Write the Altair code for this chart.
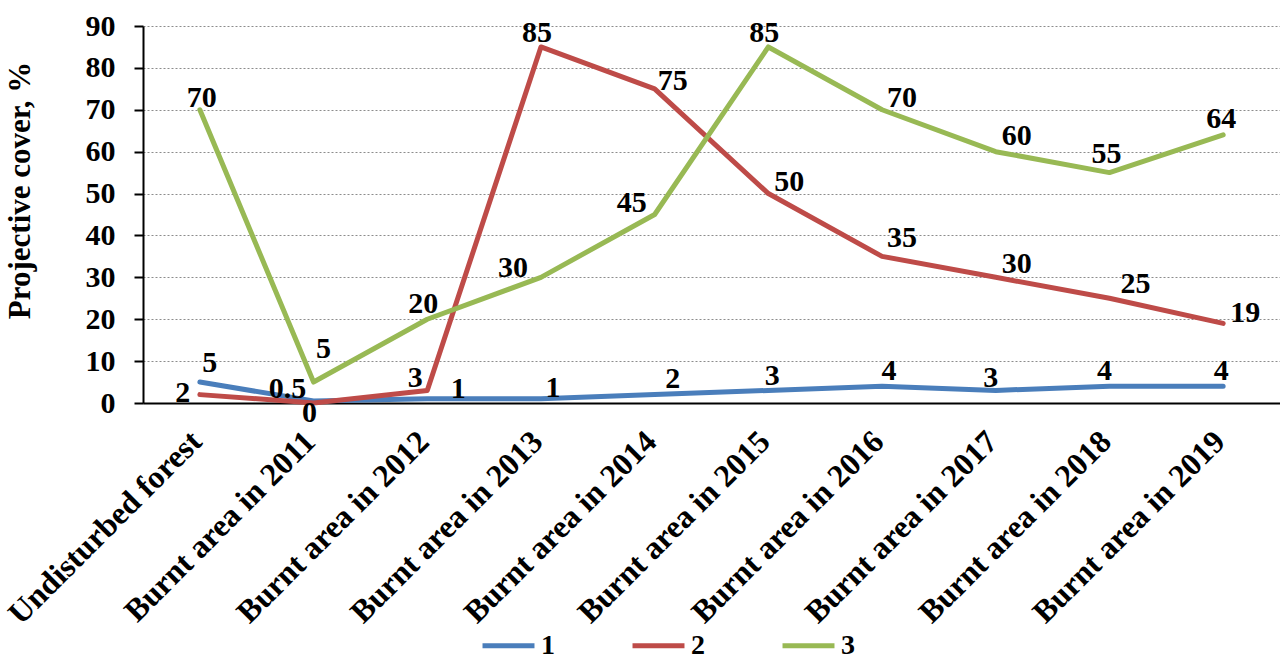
import altair as alt
import pandas as pd

# Site categories along the x axis
categories = [
    "Undisturbed forest",
    "Burnt area in 2011",
    "Burnt area in 2012",
    "Burnt area in 2013",
    "Burnt area in 2014",
    "Burnt area in 2015",
    "Burnt area in 2016",
    "Burnt area in 2017",
    "Burnt area in 2018",
    "Burnt area in 2019",
]

# Projective cover (%) for each series
series_1 = [5, 0.5, 1, 1, 2, 3, 4, 3, 4, 4]
series_2 = [2, 0, 3, 85, 75, 50, 35, 30, 25, 19]
series_3 = [70, 5, 20, 30, 45, 85, 70, 60, 55, 64]

series_names = ["1", "2", "3"]
series_colors = ["#4A7EBB", "#BE4B48", "#98B954"]

# Pixel nudges for the value labels (dx, dy from the point)
label_dx = {
    "1": [10, -26, 31, 12, 18, 4, 7, -5, -5, -2],
    "2": [-17, -4, -12, -4, 18, 21, 20, 21, 26, 22],
    "3": [2, 10, -4, -28, -23, -4, 20, 21, -3, -2],
}
label_dy = {
    "1": [-10, -3, -1, -2, -7, -5, -6, -3, -6, -6],
    "2": [7, 19, -3, -5, 1, -3, -9, -4, -5, -1],
    "3": [-3, -24, -6, 0, -3, -5, -3, -7, -10, -7],
}

rows = []
for name, values in zip(series_names, [series_1, series_2, series_3]):
    for i, (cat, v) in enumerate(zip(categories, values)):
        rows.append({
            "category": cat,
            "series": name,
            "value": v,
            "label": f"{v:g}",
            "key": f"{name}-{i}",
        })
df = pd.DataFrame(rows)

FONT = "Liberation Serif"

x_enc = alt.X(
    "category:N",
    sort=categories,
    scale=alt.Scale(type="point", padding=0.5),
    axis=alt.Axis(
        title=None,
        labelAngle=-45,
        labelAlign="right",
        labelBaseline="middle",
        labelFont=FONT,
        labelFontSize=32,
        labelFontWeight="bold",
        labelColor="black",
        labelPadding=33,
        labelOffset=-4,
        ticks=False,
        domainColor="black",
        domainWidth=2,
        grid=False,
        labelLimit=0,
    ),
)

y_enc = alt.Y(
    "value:Q",
    scale=alt.Scale(domain=[0, 90], nice=False),
    axis=alt.Axis(
        title="Projective cover, %",
        titleFont=FONT,
        titleFontSize=31,
        titleFontWeight="bold",
        titleColor="black",
        titleAngle=-90,
        titleX=-123,
        titleY=164,
        titleAlign="center",
        titleBaseline="middle",
        values=list(range(0, 91, 10)),
        labelFont=FONT,
        labelFontSize=30,
        labelFontWeight="bold",
        labelColor="black",
        labelPadding=19,
        tickSize=9,
        tickWidth=2,
        tickColor="black",
        domainColor="black",
        domainWidth=2,
        grid=True,
        gridColor="#8c8c8c",
        gridDash=[2, 2],
        gridWidth=1,
    ),
)

color_enc = alt.Color(
    "series:N",
    scale=alt.Scale(domain=series_names, range=series_colors),
    legend=alt.Legend(
        title=None,
        orient="none",
        legendX=337,
        legendY=591,
        direction="horizontal",
        symbolType="stroke",
        symbolStrokeWidth=5,
        symbolSize=2700,
        labelFont=FONT,
        labelFontSize=28,
        labelFontWeight="bold",
        labelColor="black",
        labelOffset=4,
        columnPadding=67,
        padding=0,
    ),
)

lines = alt.Chart(df).mark_line(strokeWidth=5, strokeJoin="round", strokeCap="round").encode(
    x=x_enc,
    y=y_enc,
    color=color_enc,
    order=alt.Order("series:N"),
)

layers = [lines]
for name, values in zip(series_names, [series_1, series_2, series_3]):
    for i in range(len(values)):
        key = f"{name}-{i}"
        layers.append(
            alt.Chart(df)
            .transform_filter(alt.datum.key == key)
            .mark_text(
                font=FONT,
                fontSize=30,
                fontWeight="bold",
                color="black",
                align="center",
                baseline="alphabetic",
                dx=label_dx[name][i],
                dy=label_dy[name][i],
            )
            .encode(x=x_enc, y=y_enc, text="label:N")
        )

chart = (
    alt.layer(*layers)
    .properties(
        width=1137,
        height=377,
        autosize=alt.AutoSizeParams(type="none"),
        padding={"left": 143, "top": 26, "right": 0, "bottom": 258},
        background="white",
    )
    .configure(font=FONT)
    .configure_view(stroke=None)
)

chart.save("out.html", embed_options={"renderer": "svg", "actions": False})
